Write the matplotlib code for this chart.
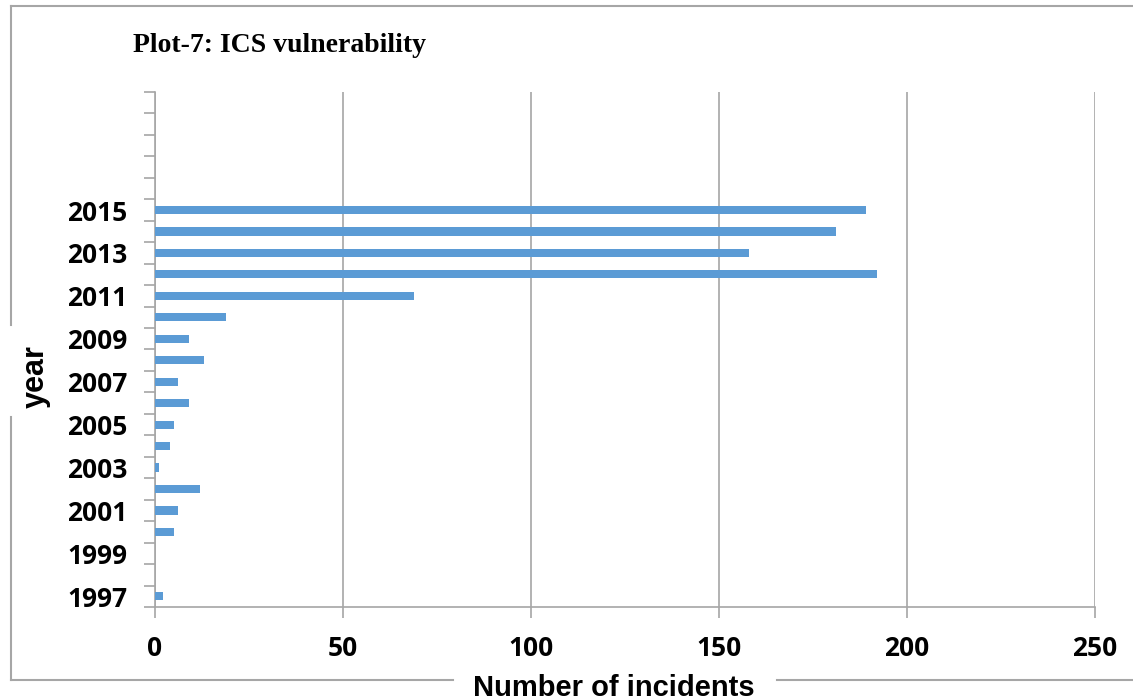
import matplotlib
matplotlib.use("Agg")
import matplotlib.pyplot as plt
from matplotlib.lines import Line2D

years = list(range(1997, 2021))
incidents = [2, 0, 0, 5, 6, 12, 1, 4, 5, 9, 6, 13, 9, 19, 69, 192, 158, 181, 189,
             0, 0, 0, 0, 0]
labelled_years = [1997, 1999, 2001, 2003, 2005, 2007, 2009, 2011, 2013, 2015]
xticks = [0, 50, 100, 150, 200, 250]

bar_color = "#5B9BD5"
grey = "#A6A6A6"
tick_font = dict(fontfamily="Open Sans", fontweight="bold", fontsize=19)

fig = plt.figure(figsize=(11.33, 7), dpi=100)
ax = fig.add_axes([155 / 1133, 1 - 607 / 700, 940 / 1133, 515 / 700])

pos = [y - years[0] for y in years]
ax.barh(pos, incidents, height=0.38, color=bar_color, zorder=3)

ax.set_xlim(0, 250)
ax.set_ylim(-0.5, len(years) - 0.5)
ax.set_xticks(xticks)
ax.set_xticklabels([str(v) for v in xticks], **tick_font)
ax.xaxis.grid(True, color=grey, linewidth=1.2, zorder=0)

# major ticks on category boundaries, labels on odd years
ax.set_yticks([p - 0.5 for p in pos] + [len(years) - 0.5])
ax.set_yticklabels([])
ax.set_yticks([y - years[0] for y in labelled_years], minor=True)
ax.set_yticklabels([str(y) for y in labelled_years], minor=True, **tick_font)
ax.tick_params(axis="y", which="major", length=8, width=1.2, color=grey,
               direction="out")
ax.tick_params(axis="y", which="minor", length=0, pad=20)
ax.tick_params(axis="x", length=8, width=1.2, color=grey, direction="out",
               pad=12)

for side in ["top", "right"]:
    ax.spines[side].set_visible(False)
for side in ["left", "bottom"]:
    ax.spines[side].set_color(grey)
    ax.spines[side].set_linewidth(1.2)

fig.text(133 / 1133, 1 - 45 / 700, "Plot-7: ICS vulnerability",
         fontfamily="Liberation Serif", fontweight="bold", fontsize=20,
         ha="left", va="center")
fig.text(36 / 1133, 1 - 377 / 700, "year", fontfamily="Liberation Sans",
         fontweight="bold", fontsize=22, rotation=90, ha="center", va="center")
fig.text(614 / 1133, 1 - 688 / 700, "Number of incidents",
         fontfamily="Liberation Sans", fontweight="bold", fontsize=21,
         ha="center", va="center")

# chart-area border with gaps behind the axis titles
def fline(x0, y0, x1, y1):
    fig.add_artist(Line2D([x0 / 1133, x1 / 1133], [1 - y0 / 700, 1 - y1 / 700],
                          color=grey, linewidth=1.5))

fline(11, 6, 1133, 6)
fline(11, 6, 11, 325)
fline(11, 417, 11, 680)
fline(11, 680, 453, 680)
fline(777, 680, 1133, 680)

fig.savefig("out.png", dpi=100)
